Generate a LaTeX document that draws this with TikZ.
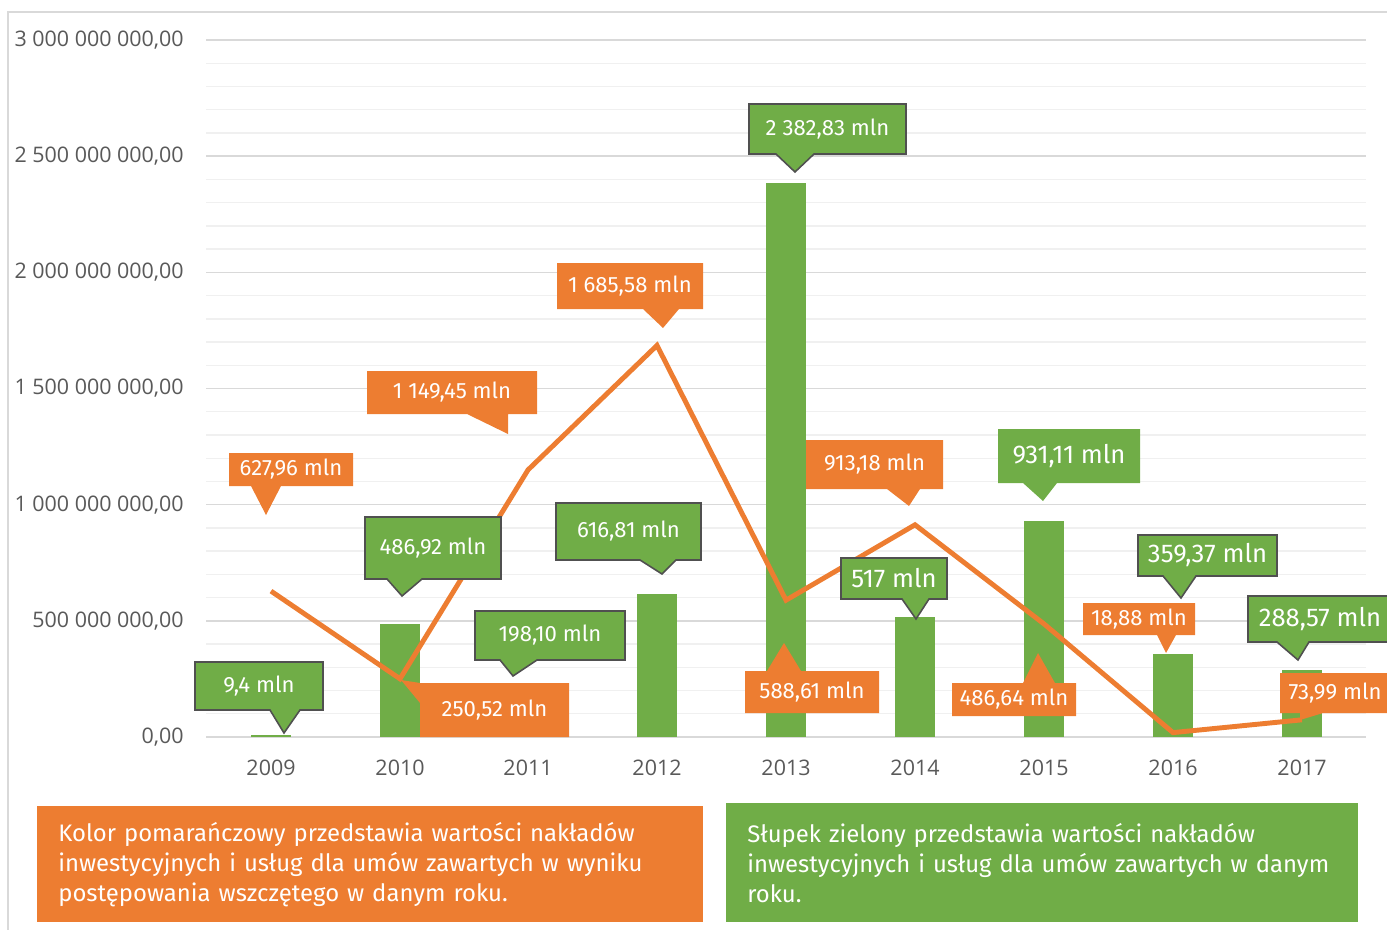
\documentclass[tikz,border=0pt]{standalone}
\usepackage{fontspec}
\setmainfont{Fira Sans}
\newfontfamily\axisfont{Open Sans}
\definecolor{barGreen}{HTML}{70AD47}
\definecolor{lineOrange}{HTML}{ED7D31}
\definecolor{frameGray}{HTML}{D9D9D9}
\definecolor{gridGray}{HTML}{F0F0F0}
\definecolor{tickGray}{HTML}{595959}
\definecolor{edgeGray}{HTML}{505050}

\begin{document}
\begin{tikzpicture}[x=0.02cm,y=-0.02cm,
	bar/.style={fill=barGreen},
	trend/.style={draw=lineOrange,line width=2.8pt,line join=miter},
	gcall/.style={fill=barGreen,draw=edgeGray,line width=0.9pt},
	ocall/.style={fill=lineOrange},
	vlab/.style={text=white,inner sep=0pt,font=\fontsize{12.6}{14}\selectfont},
	vbig/.style={text=white,inner sep=0pt,font=\fontsize{14.6}{16}\selectfont},
	axlab/.style={text=tickGray,inner sep=0pt,font=\axisfont\fontsize{12.2}{14}\selectfont},
	note/.style={text=white,font=\fontsize{13.6}{17}\selectfont,align=left,inner xsep=0.42cm,anchor=north west}]
	\useasboundingbox (0,0) rectangle (1387,930);
	% frame
		\draw[frameGray,line width=1pt] (8,930) -- (8,12) -- (1387,12);
	% grid
		\foreach \k in {0,...,30}
			\draw[gridGray,line width=0.8pt] (206,{737-\k*23.2333}) -- (1366,{737-\k*23.2333});
		\foreach \k in {0,...,6}
			\draw[frameGray,line width=0.9pt] (206,{737-\k*116.1667}) -- (1366,{737-\k*116.1667});
	% value axis
		\foreach \k/\txt in {0/{0,00},1/{500 000 000,00},2/{1 000 000 000,00},3/{1 500 000 000,00},4/{2 000 000 000,00},5/{2 500 000 000,00},6/{3 000 000 000,00}}
			\node[axlab,anchor=east] (ylab\k) at (184,{737-\k*116.1667}) {\txt};
	% years
		\foreach \yr/\xx in {2009/271,2010/400,2011/528,2012/657,2013/786,2014/915,2015/1044,2016/1173,2017/1302}
			\node[axlab] (yr\yr) at (\xx,768) {\yr};
	% green bars
		\foreach \xx/\vv in {271/9.4,400/486.92,528/198.10,657/616.81,786/2382.83,915/517,1044/931.11,1173/359.37,1302/288.57}
			\fill[bar] (\xx-20,737) rectangle (\xx+20,{737-\vv*0.23233});
	% orange line
		\draw[trend] (271,591.1) -- (400,678.8) -- (528,469.9) -- (657,345.4) -- (786,600.2)
			-- (915,524.8) -- (1044,623.9) -- (1173,732.6) -- (1302,719.8);
	% green callouts
		\filldraw[gcall] (195,662) -- (323,662) -- (323,710) -- (300,710) -- (284,733) -- (270,710) -- (195,710) -- cycle;
		\node[vlab] (g2009) at (259,686) {9,4 mln};
		\filldraw[gcall] (365,517) -- (501,517) -- (501,579) -- (422,579) -- (402,596) -- (387,579) -- (365,579) -- cycle;
		\node[vlab] (g2010) at (433,548) {486,92 mln};
		\filldraw[gcall] (475,611) -- (625,611) -- (625,660) -- (537,660) -- (513,676) -- (500,660) -- (475,660) -- cycle;
		\node[vlab] (g2011) at (550,635.5) {198,10 mln};
		\filldraw[gcall] (556,503) -- (701,503) -- (701,560) -- (676,560) -- (662,574) -- (640,560) -- (556,560) -- cycle;
		\node[vlab] (g2012) at (628.5,531.5) {616,81 mln};
		\filldraw[gcall] (749,104) -- (906,104) -- (906,154) -- (814,154) -- (795,172) -- (776,154) -- (749,154) -- cycle;
		\node[vlab] (g2013) at (827.5,129) {2 382,83 mln};
		\filldraw[gcall] (841,558) -- (947,558) -- (947,599) -- (929,599) -- (916,619) -- (902,599) -- (841,599) -- cycle;
		\node[vbig] (g2014) at (894,578.5) {517 mln};
		\fill[barGreen] (998,429) -- (1140,429) -- (1140,483) -- (1057,483) -- (1043,501) -- (1023,483) -- (998,483) -- cycle;
		\node[vbig] (g2015) at (1069,456) {931,11 mln};
		\filldraw[gcall] (1138,535) -- (1277,535) -- (1277,576) -- (1196,576) -- (1181,598) -- (1163,576) -- (1138,576) -- cycle;
		\node[vbig] (g2016) at (1207.5,555.5) {359,37 mln};
		\filldraw[gcall] (1248,596) -- (1392,596) -- (1392,642) -- (1309,642) -- (1298,660) -- (1277,642) -- (1248,642) -- cycle;
		\node[vbig] (g2017) at (1320,619) {288,57 mln};
	% orange callouts
		\fill[ocall] (229,453) -- (353,453) -- (353,486) -- (281,486) -- (266,515) -- (251,486) -- (229,486) -- cycle;
		\node[vlab] (o2009) at (291,469.5) {627,96 mln};
		\fill[ocall] (420,683) -- (569,683) -- (569,737) -- (420,737) -- (420,703) -- (401,680) -- cycle;
		\node[vlab] (o2010) at (494.5,710) {250,52 mln};
		\fill[ocall] (367,371) -- (537,371) -- (537,414) -- (508,414) -- (508,434) -- (467,414) -- (367,414) -- cycle;
		\node[vlab] (o2011) at (452,392.5) {1 149,45 mln};
		\fill[ocall] (557,263) -- (703,263) -- (703,309) -- (679,309) -- (663,328) -- (643,309) -- (557,309) -- cycle;
		\node[vlab] (o2012) at (630,286) {1 685,58 mln};
		\fill[ocall] (745,671) -- (767,671) -- (784,643) -- (801,671) -- (879,671) -- (879,713) -- (745,713) -- cycle;
		\node[vlab] (o2013) at (812,692) {588,61 mln};
		\fill[ocall] (806,440) -- (943,440) -- (943,489) -- (920,489) -- (909,506) -- (887,489) -- (806,489) -- cycle;
		\node[vlab] (o2014) at (874.5,464.5) {913,18 mln};
		\fill[ocall] (952,683) -- (1023,683) -- (1038,653) -- (1055,683) -- (1076,683) -- (1076,716) -- (952,716) -- cycle;
		\node[vlab] (o2015) at (1014,699.5) {486,64 mln};
		\fill[ocall] (1083,603) -- (1195,603) -- (1195,635) -- (1176,635) -- (1166,653) -- (1157,635) -- (1083,635) -- cycle;
		\node[vlab] (o2016) at (1139,619) {18,88 mln};
		\fill[ocall] (1280,673) -- (1390,673) -- (1390,713) -- (1323,713) -- (1300,720) -- (1300,713) -- (1280,713) -- cycle;
		\node[vlab] (o2017) at (1335,693) {73,99 mln};
	% notes
		\node[note,fill=lineOrange,text width=12.48cm,minimum height=2.32cm] (noteOrange) at (37,806)
			{Kolor pomarańczowy przedstawia wartości nakładów\\ inwestycyjnych i usług dla umów zawartych w wyniku\\ postępowania wszczętego w danym roku.};
		\node[note,fill=barGreen,text width=11.8cm,minimum height=2.38cm] (noteGreen) at (726,803)
			{Słupek zielony przedstawia wartości nakładów\\ inwestycyjnych i usług dla umów zawartych w danym\\ roku.};
\end{tikzpicture}
\end{document}
